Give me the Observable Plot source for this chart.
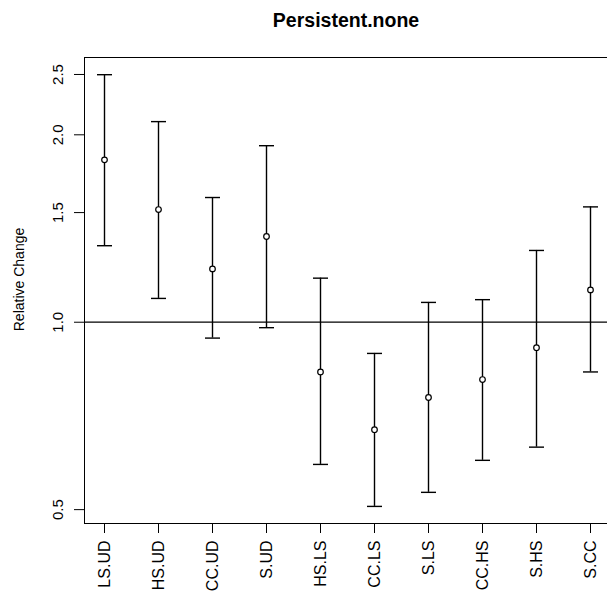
<!DOCTYPE html>
<html>
<head>
<meta charset="utf-8">
<script src="https://cdn.jsdelivr.net/npm/d3@7"></script>
<script src="https://cdn.jsdelivr.net/npm/@observablehq/plot@0.6"></script>
<style>
  html, body { margin: 0; padding: 0; background: white; }
  #wrap { width: 607px; height: 593px; overflow: hidden; position: relative; }
  #wrap g[aria-label="x-axis tick label"] { font-size: 16px; }
  #wrap g[aria-label="y-axis tick label"] { font-size: 15px; }
</style>
</head>
<body>
<div id="wrap"></div>
<script>
const categories = ["LS.UD", "HS.UD", "CC.UD", "S.UD", "HS.LS", "CC.LS", "S.LS", "CC.HS", "S.HS", "S.CC"];
const estimate = [1.823, 1.517, 1.218, 1.373, 0.832, 0.672, 0.757, 0.809, 0.910, 1.127];
const lower = [1.327, 1.092, 0.943, 0.980, 0.591, 0.506, 0.533, 0.600, 0.630, 0.832];
const upper = [2.498, 2.100, 1.586, 1.921, 1.177, 0.891, 1.076, 1.087, 1.304, 1.532];
const yTicks = [0.5, 1.0, 1.5, 2.0, 2.5];
const titleText = "Persistent.none";
const yLabel = "Relative Change";

const data = categories.map((c, i) => ({cat: c, est: estimate[i], lo: lower[i], hi: upper[i]}));

const capSymbol = {
  draw(context) {
    context.moveTo(-7.5, 0);
    context.lineTo(7.5, 0);
  }
};

const font = "'Liberation Sans', Arial, sans-serif";

const chart = Plot.plot({
  width: 609,
  height: 593,
  marginLeft: 84,
  marginRight: 0,
  marginTop: 57,
  marginBottom: 70,
  style: {fontFamily: font, fontSize: "14px", maxWidth: "none", background: "white", color: "black"},
  x: {
    type: "point",
    domain: categories,
    padding: 0.36,
    label: null,
    tickSize: 10,
    tickPadding: 7,
    tickRotate: -90
  },
  y: {
    type: "log",
    domain: [0.475, 2.662],
    ticks: yTicks,
    tickFormat: d => d.toFixed(1),
    label: null,
    tickSize: 10,
    tickPadding: 12,
    tickRotate: -90
  },
  marks: [
    Plot.frame({stroke: "black", strokeWidth: 1}),
    Plot.ruleY([1], {stroke: "black", strokeWidth: 1.2}),
    Plot.ruleX(data, {x: "cat", y1: "lo", y2: "hi", stroke: "black", strokeWidth: 1.4}),
    Plot.dot(data, {x: "cat", y: "hi", symbol: capSymbol, fill: "none", stroke: "black", strokeWidth: 1.4}),
    Plot.dot(data, {x: "cat", y: "lo", symbol: capSymbol, fill: "none", stroke: "black", strokeWidth: 1.4}),
    Plot.dot(data, {x: "cat", y: "est", r: 2.8, fill: "white", stroke: "black", strokeWidth: 1.2}),
    Plot.text([yLabel], {frameAnchor: "left", textAnchor: "middle", lineAnchor: "middle", dx: -65, dy: -11, rotate: -90, fontSize: 14, fill: "black"}),
    Plot.text([titleText], {frameAnchor: "top", textAnchor: "middle", lineAnchor: "middle", dx: -1, dy: -37, fontSize: 19.5, fontWeight: "bold", fill: "black"})
  ]
});

document.getElementById("wrap").appendChild(chart);
</script>
</body>
</html>
